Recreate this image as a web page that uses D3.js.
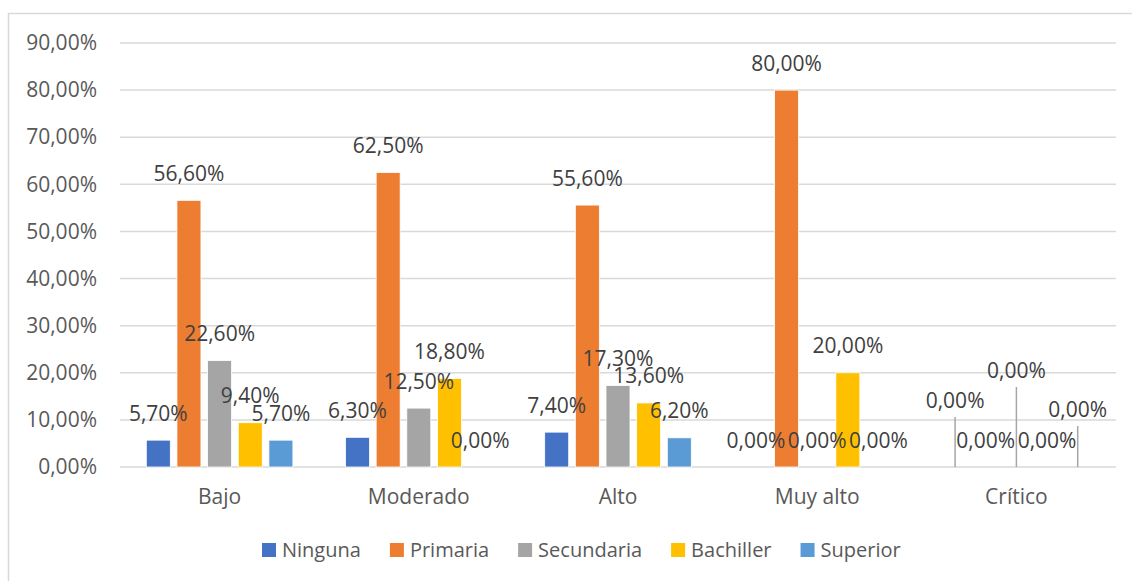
<!DOCTYPE html>
<html>
<head>
<meta charset="utf-8">
<script src="https://cdn.jsdelivr.net/npm/d3@7"></script>
<style>
  html, body { margin: 0; padding: 0; background: #fff; }
  svg { display: block; font-family: "Open Sans", "Noto Sans", sans-serif; }
</style>
</head>
<body>
<svg id="chart" width="1132" height="581"></svg>
<script>
// Nivel de riesgo por nivel de instrucción
const categories = ["Bajo", "Moderado", "Alto", "Muy alto", "Crítico"];
const seriesNames = ["Ninguna", "Primaria", "Secundaria", "Bachiller", "Superior"];
const ninguna    = [0.057, 0.063, 0.074, 0.000, 0.000];
const primaria   = [0.566, 0.625, 0.556, 0.800, 0.000];
const secundaria = [0.226, 0.125, 0.173, 0.000, 0.000];
const bachiller  = [0.094, 0.188, 0.136, 0.200, 0.000];
const superior   = [0.057, 0.000, 0.062, 0.000, 0.000];
const yTicks = [0, 0.1, 0.2, 0.3, 0.4, 0.5, 0.6, 0.7, 0.8, 0.9];

const seriesValues = [ninguna, primaria, secundaria, bachiller, superior];
const colors = ["#4472C4", "#ED7D31", "#A5A5A5", "#FFC000", "#5B9BD5"];

// Labels in the last group were dragged upward and get leader lines
const labelLift = { "Crítico|Ninguna": 40, "Crítico|Secundaria": 70, "Crítico|Superior": 31 };

const svg = d3.select("#chart");
const textColor = "#595959";
const fmt = v => d3.format(".2f")(v * 100).replace(".", ",") + "%";

// chart frame
svg.append("rect")
  .attr("x", 8.5).attr("y", 13.5)
  .attr("width", 1140).attr("height", 600)
  .attr("fill", "#fff").attr("stroke", "#D9D9D9").attr("stroke-width", 1.5);

const plot = { left: 120, right: 1116, top: 43, bottom: 467 };

const x0 = d3.scaleBand().domain(categories).range([plot.left, plot.right]).padding(0);
const x1 = d3.scaleBand().domain(seriesNames)
  .range([0, x0.bandwidth()])
  .paddingInner(0.217).paddingOuter(0.858);
const y = d3.scaleLinear().domain([0, 0.9]).range([plot.bottom, plot.top]);

// gridlines
svg.append("g")
  .selectAll("line").data(yTicks).join("line")
  .attr("x1", plot.left).attr("x2", plot.right)
  .attr("y1", d => y(d)).attr("y2", d => y(d))
  .attr("stroke", "#D9D9D9").attr("stroke-width", 1.5);

// y axis labels
const yAxis = d3.axisLeft(y).tickValues(yTicks).tickFormat(fmt).tickSize(0).tickPadding(0);
svg.append("g")
  .attr("transform", `translate(97,0)`)
  .call(yAxis)
  .call(g => g.select(".domain").remove())
  .call(g => g.selectAll("text")
    .attr("fill", textColor).attr("font-size", 21)
    .attr("font-family", "'Open Sans', 'Noto Sans', sans-serif"));

// x axis labels
const xAxis = d3.axisBottom(x0).tickSize(0).tickPadding(0);
svg.append("g")
  .attr("transform", `translate(0,${plot.bottom + 22})`)
  .call(xAxis)
  .call(g => g.select(".domain").remove())
  .call(g => g.selectAll("text")
    .attr("fill", textColor).attr("font-size", 21)
    .attr("font-family", "'Open Sans', 'Noto Sans', sans-serif"));

// flat data
const points = [];
categories.forEach((c, ci) => {
  seriesNames.forEach((s, si) => {
    points.push({ cat: c, series: s, value: seriesValues[si][ci], color: colors[si] });
  });
});

// bars
svg.append("g")
  .selectAll("rect").data(points.filter(d => d.value > 0)).join("rect")
  .attr("x", d => x0(d.cat) + x1(d.series))
  .attr("y", d => y(d.value))
  .attr("width", x1.bandwidth())
  .attr("height", d => y(0) - y(d.value))
  .attr("fill", d => d.color)
  .attr("stroke", "#fff").attr("stroke-width", 0.8);

// data labels
const labels = svg.append("g");
points.forEach(d => {
  const cx = x0(d.cat) + x1(d.series) + x1.bandwidth() / 2;
  const lift = labelLift[d.cat + "|" + d.series] || 0;
  const cy = y(d.value) - 27 - lift;
  if (lift) {
    labels.append("line")
      .attr("x1", cx).attr("x2", cx)
      .attr("y1", cy + 17).attr("y2", y(d.value))
      .attr("stroke", "#A6A6A6").attr("stroke-width", 1.5);
  }
  labels.append("text")
    .attr("x", cx).attr("y", cy)
    .attr("dy", "0.36em")
    .attr("text-anchor", "middle")
    .attr("fill", "#404040").attr("font-size", 21)
    .text(fmt(d.value));
});

// legend
const legend = svg.append("g").attr("transform", "translate(0,550)");
let cursor = 262;
seriesNames.forEach((s, i) => {
  legend.append("rect")
    .attr("x", cursor).attr("y", -7)
    .attr("width", 14).attr("height", 14)
    .attr("fill", colors[i]);
  const t = legend.append("text")
    .attr("x", cursor + 20).attr("y", 0)
    .attr("dy", "0.35em")
    .attr("fill", textColor).attr("font-size", 20)
    .text(s);
  cursor += 20 + t.node().getComputedTextLength() + 29;
});
</script>
</body>
</html>
